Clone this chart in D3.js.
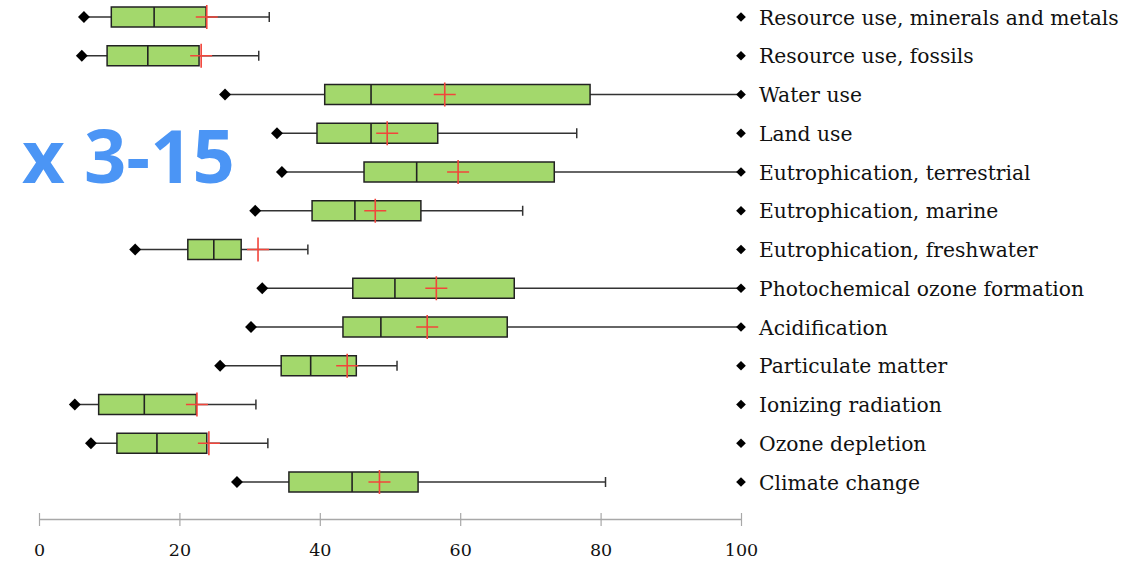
<!DOCTYPE html>
<html>
<head>
<meta charset="utf-8">
<script src="https://cdn.jsdelivr.net/npm/d3@7"></script>
<style>
  body { margin: 0; background: #fff; }
  svg { display: block; }
</style>
</head>
<body>
<svg></svg>
<script>
// impact categories, top to bottom
const categories = [
	'Resource use, minerals and metals',
	'Resource use, fossils',
	'Water use',
	'Land use',
	'Eutrophication, terrestrial',
	'Eutrophication, marine',
	'Eutrophication, freshwater',
	'Photochemical ozone formation',
	'Acidification',
	'Particulate matter',
	'Ionizing radiation',
	'Ozone depletion',
	'Climate change'
]

const mins    = [6.4, 6.1, 26.5, 33.9, 34.6, 30.8, 13.7, 31.8, 30.2, 25.8, 5.1, 7.4, 28.2]
const q1s     = [10.3, 9.7, 40.7, 39.6, 46.3, 38.9, 21.2, 44.7, 43.3, 34.5, 8.5, 11.1, 35.6]
const medians = [16.4, 15.5, 47.3, 47.3, 53.8, 45.0, 24.9, 50.7, 48.7, 38.7, 15.0, 16.8, 44.6]
const q3s     = [23.8, 22.8, 78.5, 56.8, 73.4, 54.4, 28.8, 67.7, 66.7, 45.2, 22.4, 23.9, 54.0]
const maxs    = [32.8, 31.3, 100, 76.6, 100, 68.9, 38.3, 100, 100, 51.0, 30.9, 32.6, 80.7]
const means   = [23.9, 23.1, 57.8, 49.6, 59.7, 47.9, 31.2, 56.6, 55.3, 43.9, 22.5, 24.2, 48.5]

const xTicks = [0, 20, 40, 60, 80, 100]

const width = 1137, height = 562

const svg = d3.select('svg')
	.attr('width', width)
	.attr('height', height)

const scX = d3.scaleLinear().domain([0, 100]).range([39, 741])
const scY = d3.scalePoint().domain(categories).range([17, 482])

const rows = categories.map((c, i) => ({
	name: c, min: mins[i], q1: q1s[i], med: medians[i], q3: q3s[i], max: maxs[i], mean: means[i]
}))

const boxH = 20
const diamond = d3.symbol().type(d3.symbolDiamond2)

// x axis
const axX = d3.axisBottom(scX).tickValues(xTicks).tickSize(0).tickPadding(0)
const gAx = svg.append('g')
	.attr('transform', 'translate(0, 519)')
	.call(axX)
gAx.select('.domain').attr('stroke', '#a8a8a8').attr('stroke-width', 1.5)
gAx.selectAll('.tick line').attr('y1', -6).attr('y2', 7).attr('stroke', '#a8a8a8').attr('stroke-width', 1.2)
gAx.selectAll('.tick text')
	.attr('y', 37)
	.attr('dy', 0)
	.attr('font-family', '"DejaVu Serif", serif')
	.attr('font-size', 17.5)
	.attr('fill', '#111')

const g = svg.append('g')
	.selectAll('g')
	.data(rows).enter().append('g')
	.attr('transform', d => `translate(0, ${scY(d.name)})`)

// whiskers
g.append('line')
	.attr('x1', d => scX(d.min)).attr('x2', d => scX(d.max))
	.attr('stroke', '#333').attr('stroke-width', 1.5)

// max cap for whiskers that stop before 100
g.filter(d => d.max < 100).append('line')
	.attr('x1', d => scX(d.max)).attr('x2', d => scX(d.max))
	.attr('y1', -5).attr('y2', 5)
	.attr('stroke', '#333').attr('stroke-width', 1.5)

// min diamond
g.append('path')
	.attr('d', diamond.size(90))
	.attr('transform', d => `translate(${scX(d.min)}, 0)`)
	.attr('fill', '#000')

// box
g.append('rect')
	.attr('x', d => scX(d.q1))
	.attr('width', d => scX(d.q3) - scX(d.q1))
	.attr('y', -boxH / 2).attr('height', boxH)
	.attr('fill', '#a3d86c')
	.attr('stroke', '#222').attr('stroke-width', 1.5)

// median
g.append('line')
	.attr('x1', d => scX(d.med)).attr('x2', d => scX(d.med))
	.attr('y1', -boxH / 2).attr('y2', boxH / 2)
	.attr('stroke', '#222').attr('stroke-width', 1.6)

// mean cross
g.append('path')
	.attr('d', d => `M${scX(d.mean) - 11},0H${scX(d.mean) + 11}M${scX(d.mean)},-12V12`)
	.attr('stroke', '#f2453b').attr('stroke-width', 1.6).attr('fill', 'none')

// label marker at 100 and category name
g.append('path')
	.attr('d', diamond.size(60))
	.attr('transform', `translate(${scX(100)}, 0)`)
	.attr('fill', '#000')

g.append('text')
	.attr('x', 759)
	.attr('y', 7.5)
	.attr('font-family', '"DejaVu Serif", serif')
	.attr('font-size', 20.3)
	.attr('fill', '#111')
	.text(d => d.name)

// overlay note
svg.append('text')
	.attr('x', 22).attr('y', 183)
	.attr('font-family', '"Open Sans", sans-serif')
	.attr('font-weight', 'bold')
	.attr('font-size', 74)
	.attr('fill', '#4b95f5')
	.text('x 3-15')
</script>
</body>
</html>
